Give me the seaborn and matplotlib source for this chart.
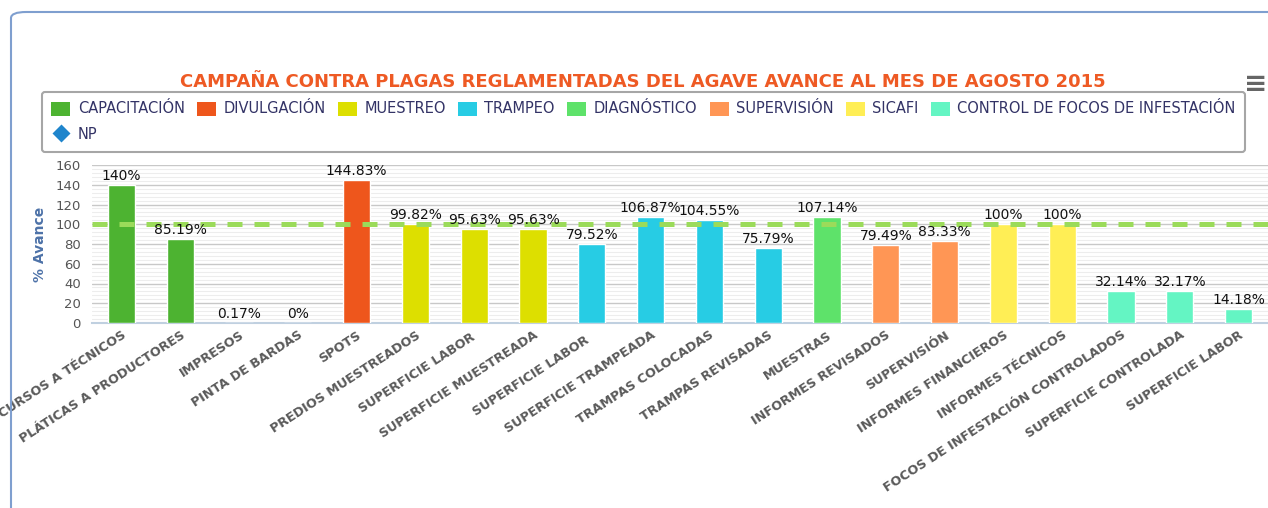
import pandas as pd
import numpy as np
import seaborn as sns
import matplotlib.pyplot as plt
from matplotlib.patches import FancyBboxPatch, Patch
from matplotlib.lines import Line2D

# data
categories = ['CURSOS A TÉCNICOS', 'PLÁTICAS A PRODUCTORES', 'IMPRESOS', 'PINTA DE BARDAS',
              'SPOTS', 'PREDIOS MUESTREADOS', 'SUPERFICIE LABOR ', 'SUPERFICIE MUESTREADA',
              'SUPERFICIE LABOR  ', 'SUPERFICIE TRAMPEADA', 'TRAMPAS COLOCADAS', 'TRAMPAS REVISADAS',
              'MUESTRAS', 'INFORMES REVISADOS', 'SUPERVISIÓN', 'INFORMES FINANCIEROS',
              'INFORMES TÉCNICOS', 'FOCOS DE INFESTACIÓN CONTROLADOS', 'SUPERFICIE CONTROLADA',
              'SUPERFICIE LABOR']
values = [140, 85.19, 0.17, 0, 144.83, 99.82, 95.63, 95.63, 79.52, 106.87, 104.55, 75.79,
          107.14, 79.49, 83.33, 100, 100, 32.14, 32.17, 14.18]
labels = ['140%', '85.19%', '0.17%', '0%', '144.83%', '99.82%', '95.63%', '95.63%', '79.52%',
          '106.87%', '104.55%', '75.79%', '107.14%', '79.49%', '83.33%', '100%', '100%',
          '32.14%', '32.17%', '14.18%']
groups = ['CAPACITACIÓN'] * 2 + ['DIVULGACIÓN'] * 3 + ['MUESTREO'] * 3 + ['TRAMPEO'] * 4 + \
         ['DIAGNÓSTICO'] + ['SUPERVISIÓN'] * 2 + ['SICAFI'] * 2 + ['CONTROL DE FOCOS DE INFESTACIÓN'] * 3
group_names = ['CAPACITACIÓN', 'DIVULGACIÓN', 'MUESTREO', 'TRAMPEO', 'DIAGNÓSTICO',
               'SUPERVISIÓN', 'SICAFI', 'CONTROL DE FOCOS DE INFESTACIÓN']
group_colors = ['#4db331', '#ee561c', '#dddf00', '#27cce4', '#5ee26a', '#ff9655', '#ffee55', '#64f5c3']
goal = 100

df = pd.DataFrame({'cat': categories, 'val': values, 'grp': groups})

sns.set_style('white')
plt.rcParams['font.family'] = ['DejaVu Sans']

fig = plt.figure(figsize=(12.68, 5.08), dpi=100)
ax = fig.add_axes([92 / 1268, 1 - 323 / 508, 1176 / 1268, 158 / 508])

sns.barplot(data=df, x='cat', y='val', hue='grp', hue_order=group_names,
            palette=dict(zip(group_names, group_colors)), dodge=False, width=0.46,
            saturation=1, legend=False, ax=ax, zorder=3)

for i, (v, t) in enumerate(zip(values, labels)):
    ax.text(i, v + 2, t, ha='center', va='bottom', fontsize=10, color='#111111', zorder=5)

ax.axhline(goal, color='#9bdb5a', lw=3.6, dashes=(3.0, 2.4), zorder=4)

ax.set_ylim(0, 160)
ax.set_xlim(-0.5, len(categories) - 0.5)
ax.set_yticks(np.arange(0, 161, 20))
ax.set_yticks(np.arange(0, 161, 4), minor=True)
ax.grid(axis='y', which='major', color='#c8c8c8', lw=1, zorder=0)
ax.grid(axis='y', which='minor', color='#ededed', lw=0.8, zorder=0)
ax.tick_params(axis='y', which='both', length=0, labelsize=9.5, labelcolor='#555555', pad=8)

ax.set_xticks(range(len(categories)))
ax.set_xticklabels(categories, rotation=33, ha='right', rotation_mode='anchor',
                   fontsize=9.2, fontweight='bold', color='#5a5a5a')
ax.tick_params(axis='x', which='major', length=0, pad=4)
ax.set_xticks(np.arange(-0.5, len(categories), 1), minor=True)
ax.tick_params(axis='x', which='minor', length=5, width=2.5, color='#333333', direction='out')
ax.set_xlabel('')
ax.set_ylabel('% Avance', fontsize=10, fontweight='bold', color='#4d72a8', labelpad=6)

for s in ['top', 'right', 'left']:
    ax.spines[s].set_visible(False)
ax.spines['bottom'].set_color('#c0d0e0')
ax.spines['bottom'].set_linewidth(1.5)

# outer frame
fig.patches.append(FancyBboxPatch((11 / 1268, -1.0), 3.0, 2.0 - 12 / 508,
                                  boxstyle='round,pad=0,rounding_size=0.012',
                                  transform=fig.transFigure, fill=False,
                                  edgecolor='#7f9fcf', lw=1.5, zorder=0))

fig.text(643 / 1268, 1 - 82 / 508, 'CAMPAÑA CONTRA PLAGAS REGLAMENTADAS DEL AGAVE AVANCE AL MES DE AGOSTO 2015',
         ha='center', va='center', fontsize=13, fontweight='bold', color='#ee5a24')
fig.text(1256 / 1268, 1 - 84 / 508, '≡', ha='center', va='center', fontsize=20,
         fontweight='bold', color='#666666')

handles = [Patch(facecolor=c, edgecolor='none') for c in group_colors]
np_handle = Line2D([], [], marker='D', color='none', markerfacecolor='#1f85cc',
                   markeredgecolor='none', markersize=9)
names = list(group_names)
hl = [handles[0], np_handle] + handles[1:]
ll = [names[0], 'NP'] + names[1:]
leg = fig.legend(hl, ll, ncol=8, loc='upper left', bbox_to_anchor=(42 / 1268, 1 - 92 / 508),
                 borderaxespad=0, frameon=True, fontsize=10.5, handlelength=1.3, handleheight=1.1,
                 handletextpad=0.5, columnspacing=0.85, labelspacing=0.75,
                 borderpad=0.65, fancybox=True, shadow=False, labelcolor='#333366')
leg.get_frame().set_edgecolor('#909090')
leg.get_frame().set_linewidth(1.5)

fig.savefig('out.png', dpi=100)
